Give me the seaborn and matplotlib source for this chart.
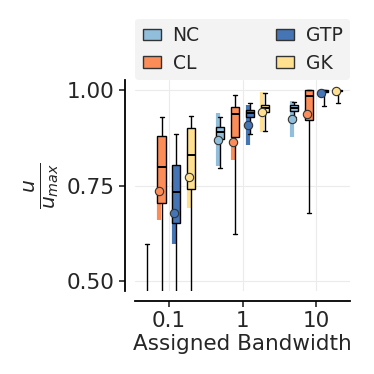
# Boxplots of normalised utility per assigned bandwidth
import numpy as np
import pandas as pd
import matplotlib
matplotlib.use("Agg")
import matplotlib.pyplot as plt
from matplotlib.patches import Patch
import seaborn as sns

# Data (five-number summary + mean/sd per box)
bandwidths = ["0.1", "1", "10"]
methods = ["NC", "CL", "GTP", "GK"]
colors = ["#91bfdb", "#fc8d59", "#4575b4", "#fee090"]

whislo = {"NC": [0.20, 0.795, 0.930], "CL": [0.30, 0.623, 0.678],
          "GTP": [0.30, 0.885, 0.959], "GK": [0.35, 0.893, 0.965]}
q1 = {"NC": [0.30, 0.872, 0.946], "CL": [0.703, 0.876, 0.921],
      "GTP": [0.653, 0.930, 0.995], "GK": [0.740, 0.942, 0.996]}
med = {"NC": [0.35, 0.890, 0.954], "CL": [0.799, 0.936, 0.984],
       "GTP": [0.733, 0.939, 0.998], "GK": [0.831, 0.952, 0.998]}
q3 = {"NC": [0.42, 0.904, 0.960], "CL": [0.880, 0.955, 1.000],
      "GTP": [0.804, 0.948, 1.000], "GK": [0.901, 0.961, 1.000]}
whishi = {"NC": [0.596, 0.929, 0.969], "CL": [0.928, 0.987, 1.000],
          "GTP": [0.886, 0.966, 1.000], "GK": [0.932, 0.993, 1.000]}
means = {"NC": [0.38, 0.870, 0.924], "CL": [0.736, 0.863, 0.938],
         "GTP": [0.677, 0.908, 0.993], "GK": [0.771, 0.942, 0.996]}
sds = {"NC": [0.05, 0.070, 0.047], "CL": [0.075, 0.045, 0.015],
       "GTP": [0.081, 0.053, 0.005], "GK": [0.080, 0.053, 0.004]}

# long table: 5 values per box -> quartiles are exact with n=5
rows = []
for m in methods:
    for i, bw in enumerate(bandwidths):
        for v in [whislo[m][i], q1[m][i], med[m][i], q3[m][i], whishi[m][i]]:
            rows.append({"bw": bw, "method": m, "u": v})
df = pd.DataFrame(rows)

sns.set_style("whitegrid", {"xtick.bottom": True, "ytick.left": True,
                            "axes.edgecolor": "black", "grid.color": "#ebebeb"})
plt.rcParams["font.family"] = ["DejaVu Sans"]

fig = plt.figure(figsize=(3.74, 3.74), dpi=100)
ax = fig.add_axes([0.361, 0.222, 0.575, 0.564])

sns.boxplot(data=df, x="bw", y="u", hue="method", order=bandwidths,
            hue_order=methods, palette=colors, saturation=1, width=0.8,
            gap=0.45, whis=np.inf, showfliers=False, linecolor="black",
            linewidth=1, medianprops={"linewidth": 1.4}, legend=False, ax=ax)
ax.grid(True, axis="both")

# mean +- sd bar behind the box, mean marker on top
offsets = [-0.3, -0.1, 0.1, 0.3]
for m, c, off in zip(methods, colors, offsets):
    xs = np.arange(len(bandwidths)) + off - 0.03
    mu = np.array(means[m])
    sd = np.array(sds[m])
    ax.vlines(xs, mu - sd, mu + sd, color=c, lw=3, zorder=1.5)
    ax.plot(xs, mu, "o", color=c, mec="#333333", mew=0.8, ms=6, zorder=5)

ax.set_xlim(-0.46, 2.46)
ax.set_ylim(0.474, 1.026)
ax.set_yticks([0.5, 0.75, 1.0])
ax.tick_params(labelsize=15.5, length=4, width=1.2)
ax.set_xlabel("Assigned Bandwidth", fontsize=15.5, labelpad=2)
ax.set_ylabel(r"$\frac{u}{u_{max}}$", fontsize=21, labelpad=4)
for s in ["left", "bottom"]:
    ax.spines[s].set_linewidth(1.3)
sns.despine(ax=ax, offset=7)

handles = [Patch(facecolor=c, edgecolor="#333333", label=m)
           for m, c in zip(methods, colors)]
leg = ax.legend(handles=handles, ncol=2, loc="lower left",
                bbox_to_anchor=(0, 1.0, 1, 0.2), mode="expand",
                borderaxespad=0, fontsize=13.5, frameon=True,
                handlelength=1.0, handleheight=0.6, handletextpad=0.6,
                labelspacing=0.45)
leg.get_frame().set_facecolor("#f0f0f0")
leg.get_frame().set_edgecolor("none")

fig.savefig("out.png", dpi=100)
